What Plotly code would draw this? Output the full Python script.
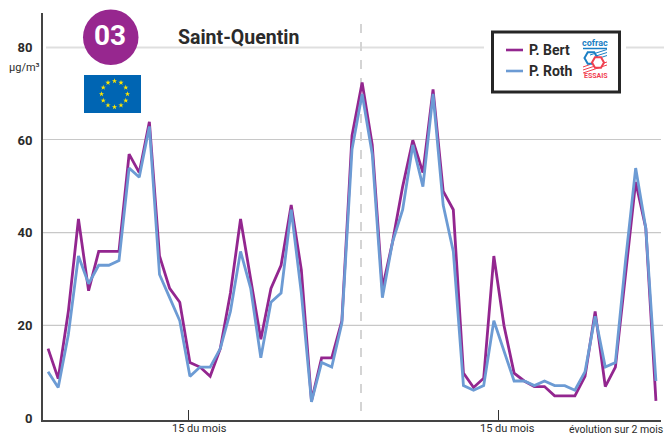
import math
import plotly.graph_objects as go

WIDTH = 667
HEIGHT = 435
NARROW = "Roboto, sans-serif"

days = list(range(61))

bert = [15, 8.5, 23, 43, 27.5, 36, 36, 36, 57, 53, 64, 35, 28, 25, 12, 11, 9, 15, 27, 43, 30,
        17, 28, 33, 46, 32, 3.7, 13, 13, 21, 61, 72.5, 59, 28, 38, 50, 60, 53, 71, 49, 45,
        9.7, 6.6, 8.6, 35, 20, 9.7, 8, 6.8, 6.8, 4.8, 4.8, 4.8, 9, 23, 6.8, 11, 31, 51, 41, 3.7]
roth = [10, 6.6, 18, 35, 29, 33, 33, 34, 54, 52, 63, 31, 26, 21, 9, 11, 11, 15, 23, 36, 28,
        13, 25, 27, 45, 27, 3.5, 12, 11, 20.5, 58, 70, 57, 26, 38, 45, 59, 50, 70, 46, 36,
        7, 6, 7, 21, 14.5, 8, 8, 7, 8, 7, 7, 6, 10, 22, 11, 12, 34, 54, 41, 8]

y_ticks = [0, 20, 40, 60, 80]
x_ticks = [13.9, 44.5]

MARGIN = dict(l=43, r=6, t=13, b=15)
X0, X1 = MARGIN["l"], WIDTH - MARGIN["r"]
Y0, Y1 = MARGIN["t"], HEIGHT - MARGIN["b"]


def px(x):
    return (x - X0) / (X1 - X0)


def py(y):
    return 1 - (y - Y0) / (Y1 - Y0)


def rect(x0, y0, x1, y1, **kw):
    return dict(type="rect", xref="paper", yref="paper", layer="below", x0=px(x0), x1=px(x1), y0=py(y0),
                y1=py(y1), **kw)


def seg(x0, y0, x1, y1, color, width, dash="solid"):
    return dict(type="line", xref="paper", yref="paper", layer="below", x0=px(x0), x1=px(x1), y0=py(y0),
                y1=py(y1), line=dict(color=color, width=width, dash=dash))


def hexagon(cx, cy, r, color, width, fill="rgba(0,0,0,0)"):
    pts = [(px(cx + r * math.cos(math.radians(a))), py(cy + r * math.sin(math.radians(a))))
           for a in range(0, 360, 60)]
    path = "M " + " L ".join(f"{a:.5f},{b:.5f}" for a, b in pts) + " Z"
    return dict(type="path", xref="paper", yref="paper", layer="below", path=path,
                line=dict(color=color, width=width), fillcolor=fill)


def label(x, y, text, size, color="#2b2b2b", bold=False, anchor="center"):
    if bold:
        text = f"<b>{text}</b>"
    return dict(xref="paper", yref="paper", x=px(x), y=py(y), text=text, showarrow=False, xanchor=anchor,
                yanchor="middle", font=dict(family=NARROW, size=size, color=color))


fig = go.Figure()
fig.add_trace(go.Scatter(x=days, y=bert, name="P. Bert", mode="lines", line=dict(color="#93268f", width=2.8)))
fig.add_trace(go.Scatter(x=days, y=roth, name="P. Roth", mode="lines", line=dict(color="#6c9bd4", width=2.8)))

# twelve stars on the flag, in pixel axes
angles = [math.radians(30 * k) for k in range(12)]
fig.add_trace(go.Scatter(x=[114.5 + 13 * math.sin(a) for a in angles], y=[94 - 13 * math.cos(a) for a in angles],
                         mode="markers", xaxis="x2", yaxis="y2", hoverinfo="skip",
                         marker=dict(symbol="star", size=4, color="#ffe600", line=dict(width=0))))

shapes = [
    # grid (80 is paler and starts past the axis)
    seg(46, 47.5, 664, 47.5, "#dfdfdf", 2),
    seg(43, 139.5, 661, 139.5, "#c8c8c8", 1.2),
    seg(43, 232.7, 661, 232.7, "#c8c8c8", 1.2),
    seg(43, 325.3, 663, 325.3, "#c8c8c8", 1.2),
    seg(361, 24, 361, 419, "#d4d4d4", 2, "9px,9px"),
    dict(type="circle", xref="paper", yref="paper", layer="below", x0=px(83), x1=px(138.5), y0=py(9.5),
         y1=py(65), fillcolor="#97278f", line=dict(width=0)),
    rect(84, 75, 141, 113, fillcolor="#0065b3", line=dict(width=0)),
    rect(484, 30, 626, 94, fillcolor="white", line=dict(width=0)),
    rect(492.5, 32, 619.5, 92, fillcolor="white", line=dict(color="#262626", width=3)),
    seg(506, 50, 523, 50, "#93268f", 2.6),
    seg(506, 71, 523, 71, "#6c9bd4", 2.6),
    # cofrac logo
    seg(583, 48.5, 607, 48.5, "#1b7fc4", 1.5),
    seg(590, 55, 607, 49.5, "#1b7fc4", 1),
    seg(596, 56, 607, 52.5, "#1b7fc4", 1),
    seg(601, 57.5, 607, 55.5, "#1b7fc4", 1),
    seg(583, 67, 590, 64.5, "#f04050", 1),
    seg(583, 70, 607, 62, "#f04050", 1),
    seg(583, 73, 607, 65, "#f04050", 1),
    hexagon(591, 58, 6.5, "#1b7fc4", 2),
    hexagon(598, 62.5, 6, "#f04050", 2, "white"),
]

annotations = [
    label(110, 36, "03", 28, "white", True),
    label(176, 37.5, "Saint-Quentin", 19.5, bold=True, anchor="left"),
    label(527, 50, "P. Bert", 14, bold=True, anchor="left"),
    label(527, 71, "P. Roth", 14, bold=True, anchor="left"),
    label(595, 43, "cofrac", 9, "#1b7fc4", True),
    label(595.5, 76, "ESSAIS", 7, "#f04050", True),
    label(24, 67, "µg/m³", 11),
    label(199, 428, "15 du mois", 11),
    label(507, 428, "15 du mois", 11),
    label(665, 429, "évolution sur 2 mois", 10.5, anchor="right"),
]

fig.update_layout(
    width=WIDTH,
    height=HEIGHT,
    margin=MARGIN,
    paper_bgcolor="white",
    plot_bgcolor="rgba(0,0,0,0)",
    showlegend=False,
    shapes=shapes,
    annotations=annotations,
    xaxis=dict(range=[-0.5, 60.5], tickvals=x_ticks, showticklabels=False, ticks="inside", ticklen=10,
               tickwidth=1.2, tickcolor="#333333", showgrid=False, zeroline=False, showline=True,
               linecolor="#444444", linewidth=2),
    yaxis=dict(range=[-0.43, 87.5], tickvals=y_ticks, ticks="", showgrid=False, zeroline=False, showline=True,
               linecolor="#444444", linewidth=2, ticklabelstandoff=6,
               tickfont=dict(family=NARROW, size=13, color="#2b2b2b", weight="bold")),
    xaxis2=dict(range=[X0, X1], overlaying="x", visible=False),
    yaxis2=dict(range=[Y1, Y0], overlaying="y", visible=False),
)

fig.write_html("out.html", config=dict(displayModeBar=False), post_script="document.body.style.margin='0';")
